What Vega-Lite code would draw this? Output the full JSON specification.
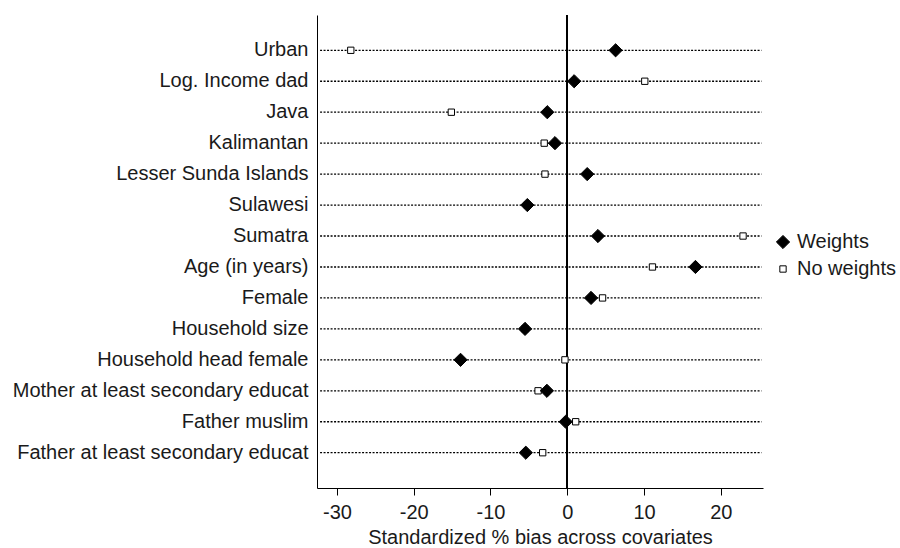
{
  "$schema": "https://vega.github.io/schema/vega-lite/v6.json",
  "autosize": {"type": "none"},
  "padding": {"left": 317, "top": 15, "right": 137, "bottom": 60},
  "width": 446,
  "height": 473,
  "background": "white",
  "config": {
    "view": {"stroke": null},
    "font": "Liberation Sans",
    "axis": {
      "grid": false,
      "domainColor": "#000",
      "domainWidth": 1,
      "tickColor": "#000",
      "labelColor": "#1a1a1a",
      "titleColor": "#1a1a1a",
      "labelFontSize": 20,
      "titleFontSize": 20,
      "titleFontWeight": "normal",
      "labelLimit": 0
    },
    "legend": {"labelFontSize": 20, "labelColor": "#1a1a1a", "labelLimit": 0}
  },
  "data": {
    "values": [
      {"variable": "Urban", "series": "No weights", "bias": -28.2},
      {"variable": "Log. Income dad", "series": "No weights", "bias": 10.1},
      {"variable": "Java", "series": "No weights", "bias": -15.1},
      {"variable": "Kalimantan", "series": "No weights", "bias": -3.0},
      {"variable": "Lesser Sunda Islands", "series": "No weights", "bias": -2.9},
      {"variable": "Sulawesi", "series": "No weights", "bias": -5.2},
      {"variable": "Sumatra", "series": "No weights", "bias": 22.9},
      {"variable": "Age (in years)", "series": "No weights", "bias": 11.1},
      {"variable": "Female", "series": "No weights", "bias": 4.6},
      {"variable": "Household size", "series": "No weights", "bias": -5.5},
      {"variable": "Household head female", "series": "No weights", "bias": -0.3},
      {"variable": "Mother at least secondary educat", "series": "No weights", "bias": -3.8},
      {"variable": "Father muslim", "series": "No weights", "bias": 1.1},
      {"variable": "Father at least secondary educat", "series": "No weights", "bias": -3.2},
      {"variable": "Urban", "series": "Weights", "bias": 6.3},
      {"variable": "Log. Income dad", "series": "Weights", "bias": 0.9},
      {"variable": "Java", "series": "Weights", "bias": -2.6},
      {"variable": "Kalimantan", "series": "Weights", "bias": -1.6},
      {"variable": "Lesser Sunda Islands", "series": "Weights", "bias": 2.6},
      {"variable": "Sulawesi", "series": "Weights", "bias": -5.2},
      {"variable": "Sumatra", "series": "Weights", "bias": 4.0},
      {"variable": "Age (in years)", "series": "Weights", "bias": 16.7},
      {"variable": "Female", "series": "Weights", "bias": 3.1},
      {"variable": "Household size", "series": "Weights", "bias": -5.5},
      {"variable": "Household head female", "series": "Weights", "bias": -13.9},
      {"variable": "Mother at least secondary educat", "series": "Weights", "bias": -2.65},
      {"variable": "Father muslim", "series": "Weights", "bias": -0.2},
      {"variable": "Father at least secondary educat", "series": "Weights", "bias": -5.4}
    ]
  },
  "layer": [
    {
      "transform": [{"filter": "datum.series === 'Weights'"}],
      "mark": {"type": "rule", "color": "#000", "strokeWidth": 1.3, "strokeDash": [2, 1.5]},
      "encoding": {
        "y": {
          "field": "variable",
          "type": "nominal",
          "scale": {
            "type": "band",
            "paddingInner": 0,
            "paddingOuter": 0.64,
            "domain": ["Urban", "Log. Income dad", "Java", "Kalimantan", "Lesser Sunda Islands", "Sulawesi", "Sumatra", "Age (in years)", "Female", "Household size", "Household head female", "Mother at least secondary educat", "Father muslim", "Father at least secondary educat"]
          },
          "axis": {"title": null, "ticks": false, "labelPadding": 9, "domain": true}
        },
        "x": {"datum": -32.2, "type": "quantitative"},
        "x2": {"datum": 25.3}
      }
    },
    {
      "mark": {"type": "rule", "color": "#000", "strokeWidth": 1},
      "encoding": {"x": {"datum": 0, "type": "quantitative"}}
    },
    {
      "mark": {"type": "point", "opacity": 1, "stroke": "#000", "strokeWidth": 1},
      "encoding": {
        "y": {"field": "variable", "type": "nominal"},
        "x": {
          "field": "bias",
          "type": "quantitative",
          "scale": {"domain": [-32.6, 25.5], "nice": false, "zero": false},
          "axis": {
            "title": "Standardized % bias across covariates",
            "values": [-30, -20, -10, 0, 10, 20],
            "labelExpr": "datum.value < 0 ? '-' + abs(datum.value) : '' + datum.value",
            "tickSize": 7,
            "labelPadding": 7,
            "titlePadding": 5,
            "labelFlush": false
          }
        },
        "shape": {
          "field": "series",
          "type": "nominal",
          "scale": {"domain": ["Weights", "No weights"], "range": ["diamond", "square"]},
          "legend": {
            "title": null,
            "orient": "none",
            "legendX": 456,
            "legendY": 217,
            "padding": 0,
            "rowPadding": 7,
            "labelOffset": 4,
            "symbolStrokeColor": "#000",
            "symbolStrokeWidth": 1
          }
        },
        "fill": {
          "field": "series",
          "type": "nominal",
          "scale": {"domain": ["Weights", "No weights"], "range": ["#000000", "#ffffff"]},
          "legend": {"title": null}
        },
        "size": {
          "field": "series",
          "type": "nominal",
          "scale": {"domain": ["Weights", "No weights"], "range": [175, 40]},
          "legend": {"title": null}
        }
      }
    }
  ]
}
